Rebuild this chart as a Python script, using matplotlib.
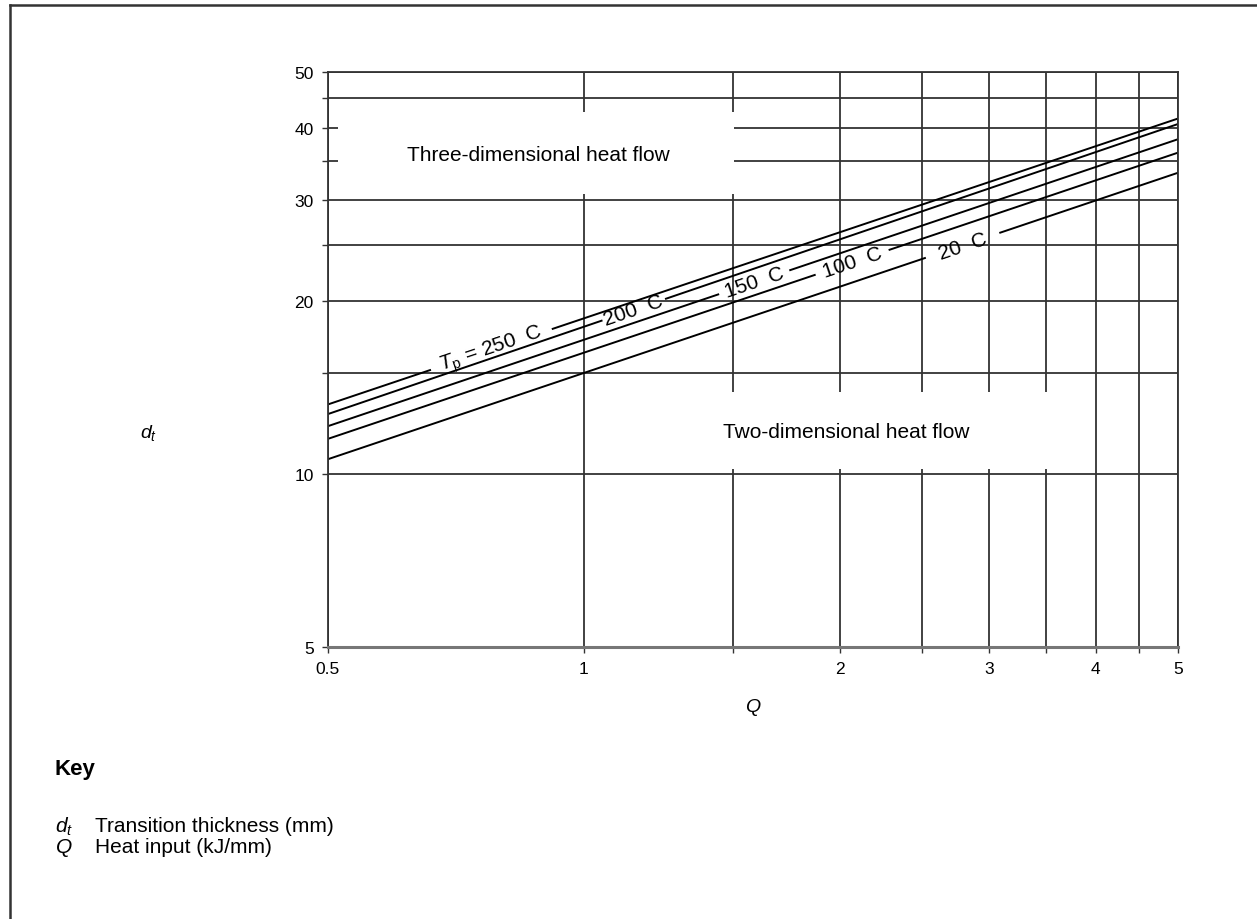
#!/usr/bin/env python3
# transition thickness vs heat input, log-log with labelled isotherms
import numpy as np
import matplotlib
matplotlib.use('Agg')
import matplotlib.pyplot as plt
from matplotlib.patches import Rectangle
from matplotlib.lines import Line2D

plt.rcParams['font.family'] = ['Liberation Sans', 'DejaVu Sans']
plt.rcParams['mathtext.fontset'] = 'custom'
plt.rcParams['mathtext.rm'] = 'Liberation Sans'
plt.rcParams['mathtext.it'] = 'Liberation Sans:italic'

# data
q_ends = [0.5, 5.0]
temps = ['250', '200', '150', '100', '20']
d_start = [13.2, 12.7, 12.1, 11.5, 10.6]   # d_t at Q = 0.5
d_end = [41.5, 40.6, 38.2, 36.2, 33.4]     # d_t at Q = 5
label_gaps = [(0.66, 0.92), (1.05, 1.25), (1.44, 1.75), (1.87, 2.29), (2.52, 3.09)]
label_texts = [r'$T_\mathrm{p}$ = 250  C', '200  C', '150  C', '100  C', '20  C']

x_ticks = [0.5, 1, 1.5, 2, 2.5, 3, 3.5, 4, 4.5, 5]
x_labels = ['0.5', '1', '', '2', '', '3', '', '4', '', '5']
y_ticks = [5, 10, 15, 20, 25, 30, 35, 40, 45, 50]
y_labels = ['5', '10', '', '20', '', '30', '', '40', '', '50']

W, H = 1257, 920
fig = plt.figure(figsize=(W / 100, H / 100), dpi=100)
ax = fig.add_axes([327.5 / W, 1 - 648 / H, 850.5 / W, 575 / H])
ax.set_xscale('log')
ax.set_yscale('log')
ax.set_xlim(0.5, 5)
ax.set_ylim(5, 50)
ax.minorticks_off()
ax.set_xticks(x_ticks)
ax.set_xticklabels(x_labels, fontsize=12.5)
ax.set_yticks(y_ticks)
ax.set_yticklabels(y_labels, fontsize=12.5)
ax.tick_params(length=4, width=1, color='#333333', pad=6)
ax.set_axisbelow(True)
ax.grid(True, color='#333333', lw=1.3)
for s in ax.spines.values():
    s.set_color('#333333')
    s.set_linewidth(1.3)
ax.spines['bottom'].set_linewidth(2.2)
ax.spines['bottom'].set_color('#777777')

# white boxes behind region labels (grid is broken there)
ax.add_patch(Rectangle((0.012, 0.788), 0.466, 0.142, transform=ax.transAxes,
                       facecolor='white', edgecolor='none', zorder=1))
ax.add_patch(Rectangle((0.455, 0.310), 0.433, 0.133, transform=ax.transAxes,
                       facecolor='white', edgecolor='none', zorder=1))
ax.text(0.248, 0.857, 'Three-dimensional heat flow', transform=ax.transAxes,
        ha='center', va='center', fontsize=15, zorder=3)
ax.text(0.610, 0.374, 'Two-dimensional heat flow', transform=ax.transAxes,
        ha='center', va='center', fontsize=15, zorder=3)

# isotherm lines (straight in log-log), broken where the label sits
for i in range(len(temps)):
    b = np.log(d_end[i] / d_start[i]) / np.log(q_ends[1] / q_ends[0])
    dq = lambda q: d_start[i] * (q / q_ends[0]) ** b
    g0, g1 = label_gaps[i]
    ax.plot([q_ends[0], g0], [d_start[i], dq(g0)], color='black', lw=1.4, zorder=2)
    ax.plot([g1, q_ends[1]], [dq(g1), d_end[i]], color='black', lw=1.4, zorder=2)
    p1 = ax.transData.transform((q_ends[0], d_start[i]))
    p2 = ax.transData.transform((q_ends[1], d_end[i]))
    ang = np.degrees(np.arctan2(p2[1] - p1[1], p2[0] - p1[0]))
    qm = np.sqrt(g0 * g1)
    ax.text(qm, dq(qm), label_texts[i], rotation=ang, rotation_mode='anchor',
            ha='center', va='center', fontsize=15, zorder=3)

# axis labels placed like the original
fig.text(140 / W, 1 - 433 / H, r'$d_t$', fontsize=14, va='center')
fig.text(753 / W, 1 - 708 / H, r'$Q$', fontsize=14, ha='center', va='center')

# key
fig.text(55 / W, 1 - 770 / H, 'Key', fontsize=16, weight='bold', va='center')
fig.text(55 / W, 1 - 827 / H, r'$d_t$', fontsize=15, va='center')
fig.text(95 / W, 1 - 827 / H, 'Transition thickness (mm)', fontsize=15, va='center')
fig.text(55 / W, 1 - 848 / H, r'$Q$', fontsize=15, va='center')
fig.text(95 / W, 1 - 848 / H, 'Heat input (kJ/mm)', fontsize=15, va='center')

# page frame (top and left only)
fig.add_artist(Line2D([10 / W, 1], [1 - 6 / H, 1 - 6 / H], transform=fig.transFigure,
                      color='#333333', lw=1.8))
fig.add_artist(Line2D([10 / W, 10 / W], [0, 1 - 6 / H], transform=fig.transFigure,
                      color='#333333', lw=1.8))

plt.savefig('out.png', dpi=100)
